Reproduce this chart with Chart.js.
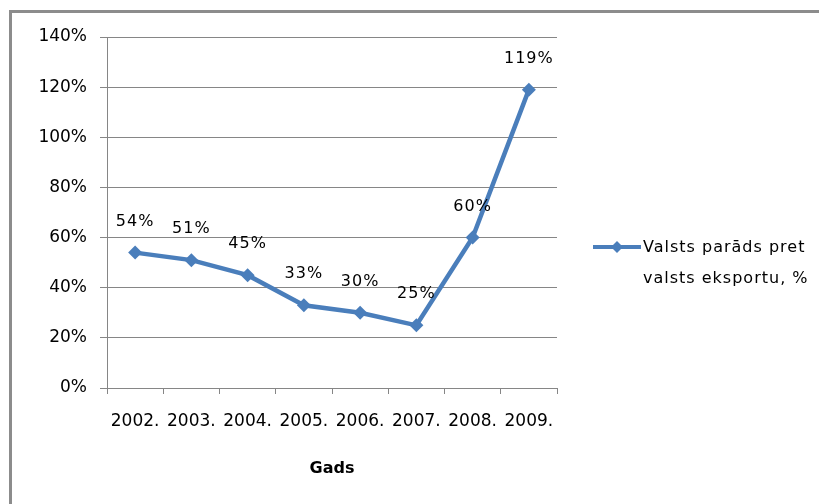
<!DOCTYPE html>
<html>
<head>
<meta charset="utf-8">
<script src="https://cdn.jsdelivr.net/npm/chart.js@4"></script>
<style>
  html, body { margin: 0; padding: 0; background: #fff; }
  #wrap { position: relative; width: 819px; height: 504px; }
</style>
</head>
<body>
<div id="wrap"><canvas id="c" width="819" height="504"></canvas></div>
<script>
const categories = ['2002.', '2003.', '2004.', '2005.', '2006.', '2007.', '2008.', '2009.'];
const seriesValues = [54, 51, 45, 33, 30, 25, 60, 119];
const seriesName = ['Valsts parāds pret', 'valsts eksportu, %'];
const yTicks = [0, 20, 40, 60, 80, 100, 120, 140];
const xTitle = 'Gads';

const FONT = 'DejaVu Sans';
const LINE_COLOR = '#4a7ebb';

const framePlugin = {
  id: 'frame',
  beforeDraw(chart) {
    const ctx = chart.ctx;
    ctx.save();
    ctx.fillStyle = '#ffffff';
    ctx.fillRect(0, 0, chart.width, chart.height);
    ctx.fillStyle = '#8c8c8c';
    ctx.fillRect(9, 10, chart.width - 9, 3);
    ctx.fillRect(9, 10, 3, chart.height - 10);
    ctx.restore();
  }
};

const labelsPlugin = {
  id: 'pointLabels',
  afterDatasetsDraw(chart) {
    const ctx = chart.ctx;
    const meta = chart.getDatasetMeta(0);
    ctx.save();
    ctx.letterSpacing = '1px';
    ctx.font = '16px "' + FONT + '"';
    ctx.fillStyle = '#000';
    ctx.textAlign = 'center';
    ctx.textBaseline = 'middle';
    meta.data.forEach((pt, i) => {
      ctx.fillText(seriesValues[i] + '%', pt.x, pt.y - 31);
    });
    ctx.restore();
  }
};

const legendPlugin = {
  id: 'customLegend',
  afterDraw(chart) {
    const ctx = chart.ctx;
    const ds = chart.data.datasets[0];
    ctx.save();
    ctx.strokeStyle = ds.borderColor;
    ctx.lineWidth = 4;
    ctx.beginPath();
    ctx.moveTo(593, 247);
    ctx.lineTo(641, 247);
    ctx.stroke();
    ctx.fillStyle = ds.borderColor;
    ctx.beginPath();
    const cx = 617, cy = 247, r = 6;
    ctx.moveTo(cx, cy - r); ctx.lineTo(cx + r, cy); ctx.lineTo(cx, cy + r); ctx.lineTo(cx - r, cy);
    ctx.closePath(); ctx.fill();
    ctx.letterSpacing = '1px';
    ctx.font = '16px "' + FONT + '"';
    ctx.fillStyle = '#000';
    ctx.textAlign = 'left';
    ctx.textBaseline = 'middle';
    ctx.fillText(seriesName[0], 643, 248);
    ctx.fillText(seriesName[1], 643, 279);
    ctx.restore();
  }
};

new Chart(document.getElementById('c'), {
  type: 'line',
  data: {
    labels: categories,
    datasets: [{
      label: seriesName.join(' '),
      data: seriesValues,
      borderColor: LINE_COLOR,
      backgroundColor: LINE_COLOR,
      borderWidth: 4.5,
      pointStyle: 'rectRot',
      pointRadius: 7,
      pointBorderWidth: 0,
      tension: 0,
      fill: false
    }]
  },
  options: {
    responsive: false,
    animation: false,
    devicePixelRatio: 1,
    layout: { padding: { left: 0, right: 262, top: 37, bottom: 0 } },
    plugins: { legend: { display: false }, tooltip: { enabled: false } },
    scales: {
      x: {
        offset: true,
        grid: { display: true, drawOnChartArea: false, drawTicks: true, tickLength: 6, color: '#868686', offset: true },
        border: { display: true, color: '#868686', width: 1 },
        ticks: { autoSkip: false, maxRotation: 0, minRotation: 0, color: '#000', padding: 17, font: { family: FONT, size: 17 } },
        title: { display: true, text: xTitle, color: '#000', font: { family: FONT, size: 16, weight: 'bold' }, padding: { top: 0, bottom: 26 } },
        afterFit(scale) { scale.height = 116; }
      },
      y: {
        min: 0, max: 140,
        afterBuildTicks(scale) { scale.ticks = yTicks.map(v => ({ value: v })); },
        grid: { color: '#868686', tickLength: 7, drawTicks: true },
        border: { display: true, color: '#868686', width: 1 },
        ticks: { color: '#000', padding: 13, font: { family: FONT, size: 17 }, callback: v => v + '%' },
        afterFit(scale) { scale.width = 107; }
      }
    }
  },
  plugins: [framePlugin, labelsPlugin, legendPlugin]
});
</script>
</body>
</html>
